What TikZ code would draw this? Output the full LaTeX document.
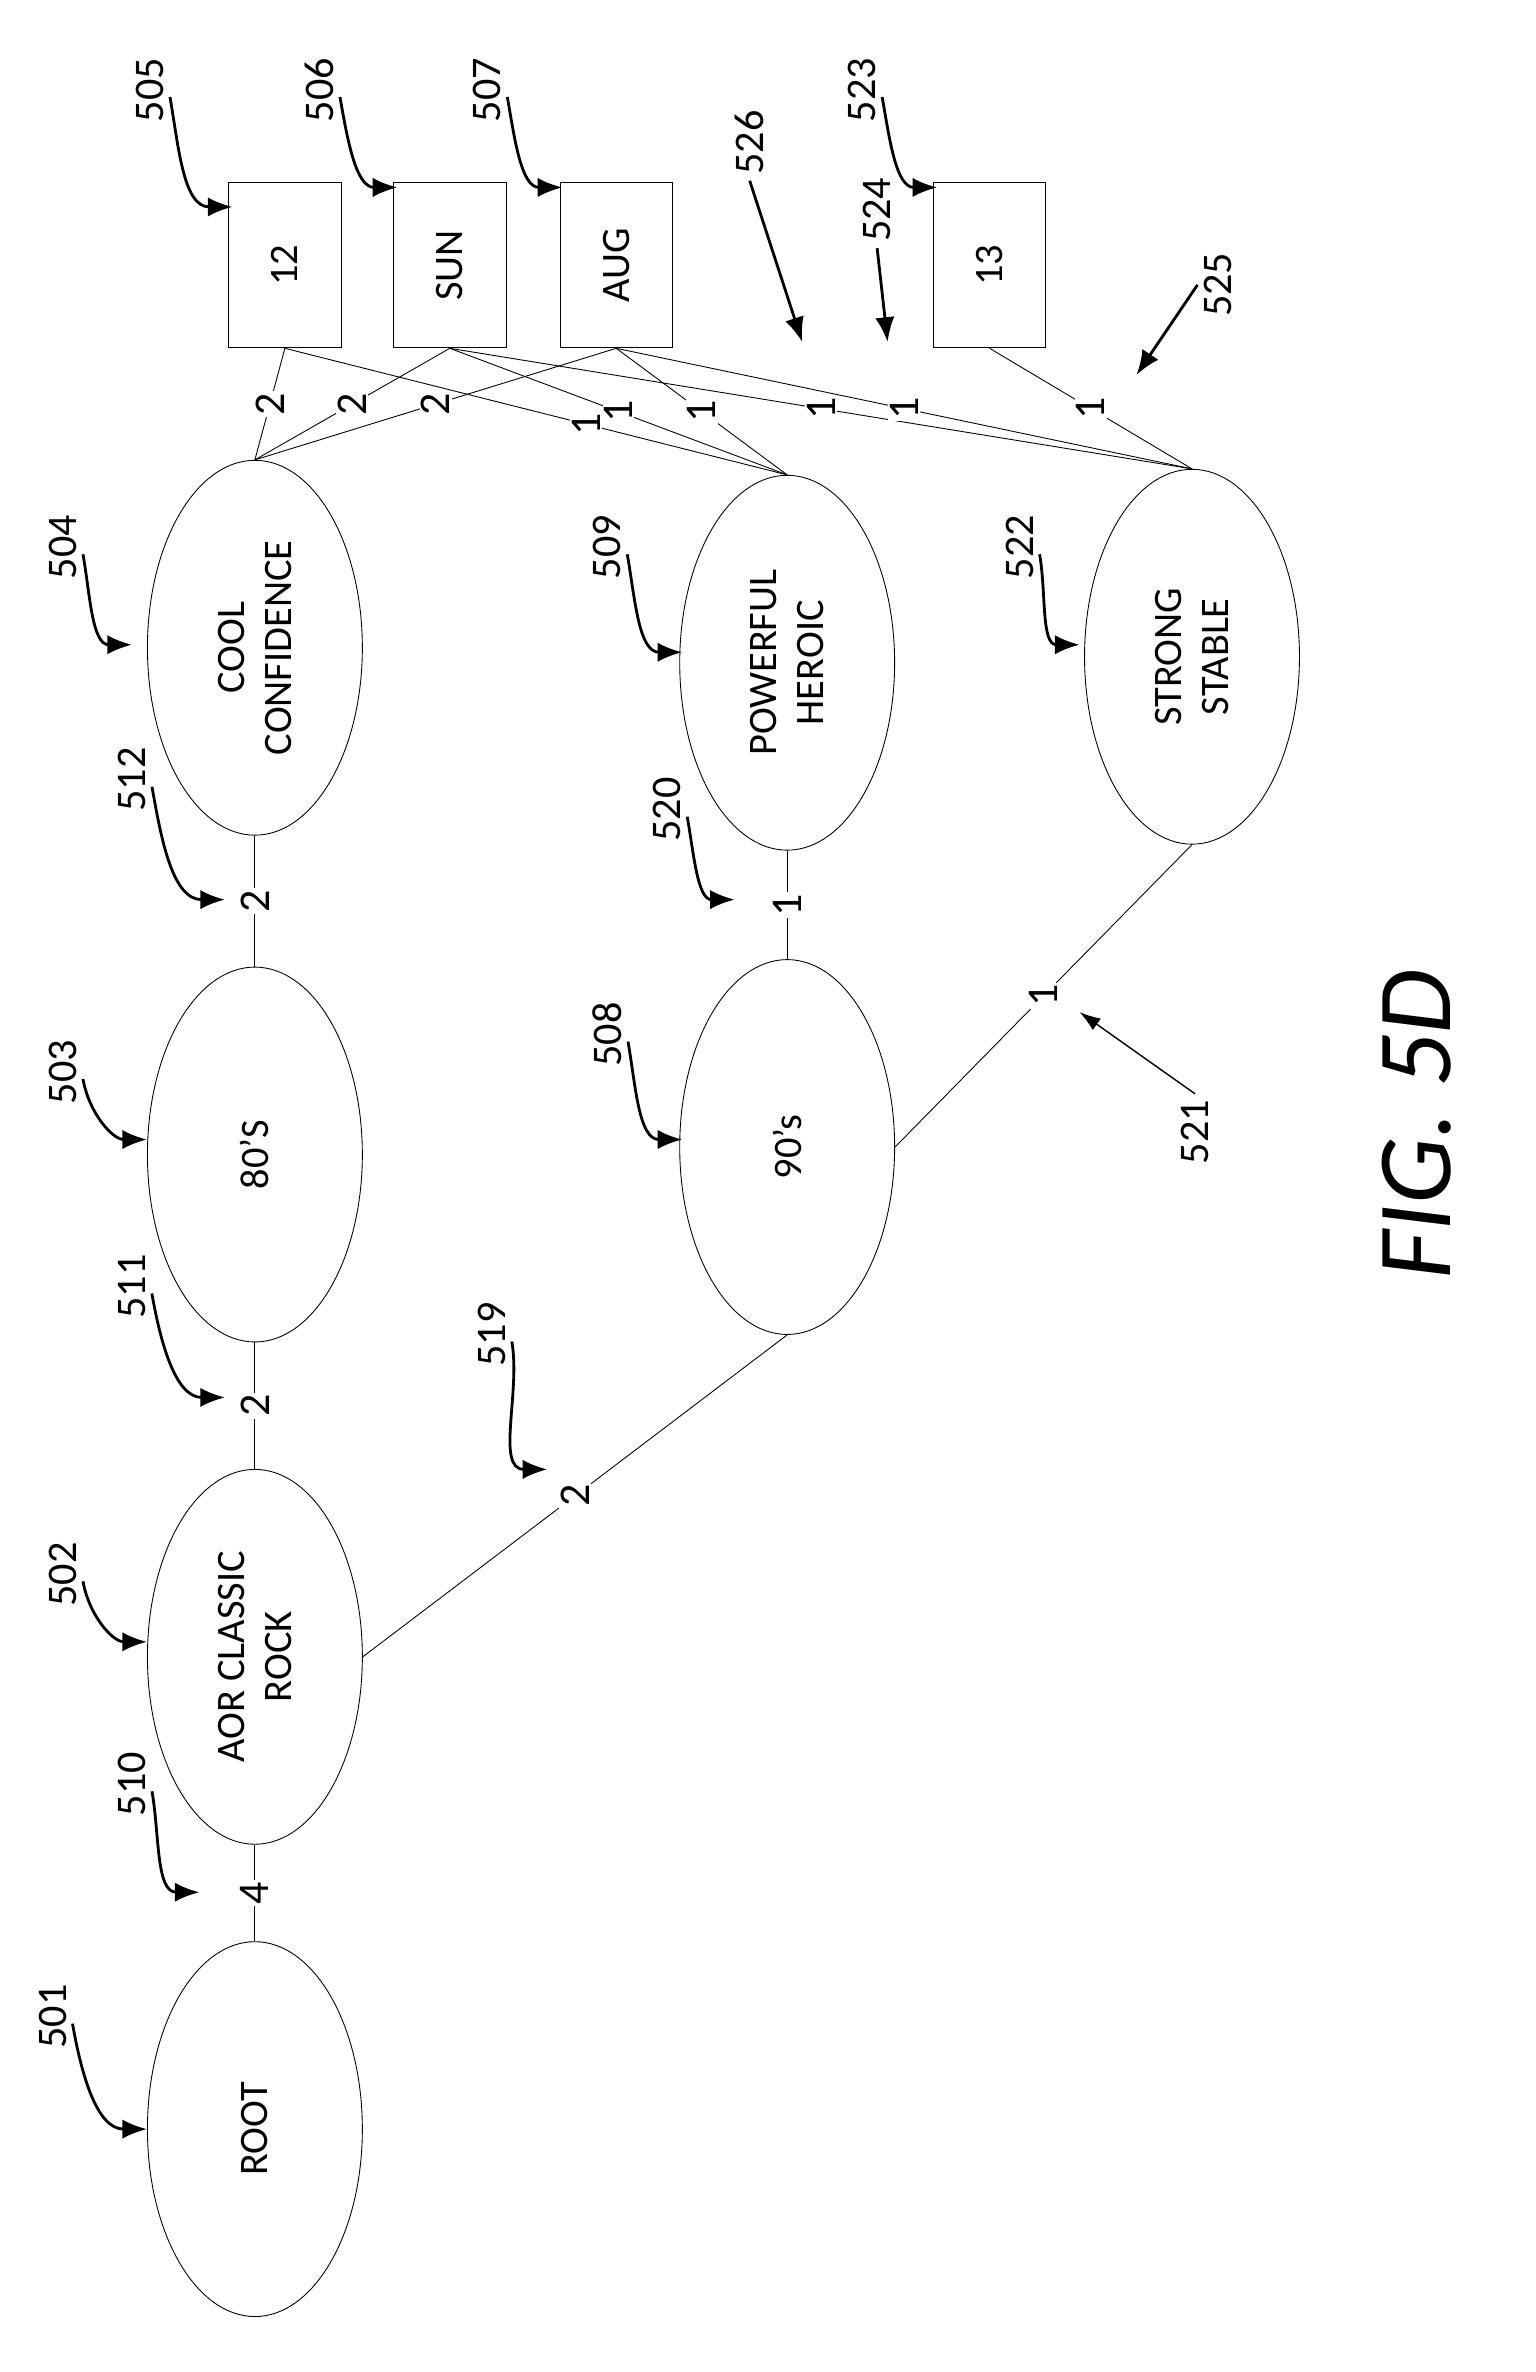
\documentclass[tikz,border=0pt]{standalone}
\usepackage{fontspec}
\setmainfont{Carlito}
\usetikzlibrary{shapes.geometric,arrows.meta}
\tikzset{
  oval/.style={draw, ellipse, rotate=90, minimum width=7.5cm, minimum height=4.3cm, align=center, font=\fontsize{23}{27}\selectfont, line width=0.5pt},
  box/.style={draw, rectangle, rotate=90, minimum width=3.3cm, minimum height=2.25cm, font=\fontsize{23}{27}\selectfont, line width=0.5pt},
  wt/.style={fill=white, inner sep=1pt, rotate=90, font=\fontsize{25}{29}\selectfont},
  refn/.style={rotate=90, font=\fontsize{24}{28}\selectfont},
  link/.style={line width=0.5pt},
  callout/.style={line width=1.6pt, -{Latex[length=14pt,width=11pt]}},
  pointer/.style={line width=0.8pt, -{Latex[length=12pt,width=8pt]}}
}
\begin{document}
\begin{tikzpicture}[x=0.03cm, y=-0.03cm]
    \useasboundingbox (0,0) rectangle (1024,1582);

    % ovals
    \node[oval] (root) at (170,1420) {ROOT};
    \node[oval] (aor) at (170,1105) {AOR CLASSIC\\ROCK};
    \node[oval] (eighties) at (170,770) {80'S};
    \node[oval] (cool) at (170,432) {COOL\\CONFIDENCE};
    \node[oval] (nineties) at (525,765) {90's};
    \node[oval] (heroic) at (525,442) {POWERFUL\\HEROIC};
    \node[oval] (stable) at (795,438) {STRONG\\STABLE};

    % boxes
    \node[box] (b12) at (190,177) {12};
    \node[box] (sun) at (300,177) {SUN};
    \node[box] (aug) at (411,177) {AUG};
    \node[box] (b13) at (660,177) {13};

    % tree links
    \draw[link] (root.east) -- (aor.west) node[wt,midway] {4};
    \draw[link] (aor.east) -- (eighties.west) node[wt,midway] {2};
    \draw[link] (eighties.east) -- (cool.west) node[wt,midway] {2};
    \draw[link] (aor.south) -- (nineties.west) node[wt,pos=0.5] {2};
    \draw[link] (nineties.east) -- (heroic.west) node[wt,midway] {1};
    \draw[link] (nineties.south) -- (stable.west) node[wt,midway] {1};

    % box links
    \draw[link] (b12.west) -- (cool.east) node[wt,midway] {2};
    \draw[link] (sun.west) -- (cool.east) node[wt,midway] {2};
    \draw[link] (aug.west) -- (cool.east) node[wt,midway] {2};
    \draw[link] (b12.west) -- (heroic.east) node[wt,pos=0.6] {1};
    \draw[link] (sun.west) -- (heroic.east) node[wt,midway] {1};
    \draw[link] (aug.west) -- (heroic.east) node[wt,midway] {1};
    \draw[link] (sun.west) -- (stable.east) node[wt,midway] {1};
    \draw[link] (aug.west) -- (stable.east) node[wt,midway] {1};
    \draw[link] (b13.west) -- (stable.east) node[wt,midway] {1};

    % reference numerals
    \foreach \n/\tx/\ty/\hx/\hy in {501/35/1345/98/1420, 510/88/1190/133/1262, 502/42/1050/98/1095,
        519/328/890/365/980, 511/88/858/150/932, 503/42/715/98/760, 512/88/520/150/600,
        504/42/365/88/430, 520/445/540/490/600, 508/405/690/455/760, 509/405/365/455/435,
        522/680/365/720/430, 505/100/60/155/138, 506/213/60/265/125, 507/325/60/375/125,
        523/575/60/625/125} {
        \node[refn] (r\n) at (\tx,\ty) {\n};
        \coordinate (t\n) at (\hx,\hy);
        \draw[callout] ([yshift=-4pt]r\n.south) to[out=-80, in=180] (t\n);
    }

    \node[refn] (r526) at (500,95) {526};
    \coordinate (t526) at (535,228);
    \draw[callout] (r526.west) -- (t526);
    \node[refn] (r524) at (585,140) {524};
    \coordinate (t524) at (592,228);
    \draw[callout] (r524.west) -- (t524);
    \node[refn] (r525) at (812,190) {525};
    \coordinate (t525) at (758,250);
    \draw[callout] (r525.north) -- (t525);
    \node[refn] (r521) at (797,755) {521};
    \coordinate (t521) at (720,675);
    \draw[pointer] (r521.east) -- (t521);

    \node[rotate=90, font=\fontsize{60}{64}\selectfont\itshape] (fig) at (945,750) {FIG. 5D};
\end{tikzpicture}
\end{document}
